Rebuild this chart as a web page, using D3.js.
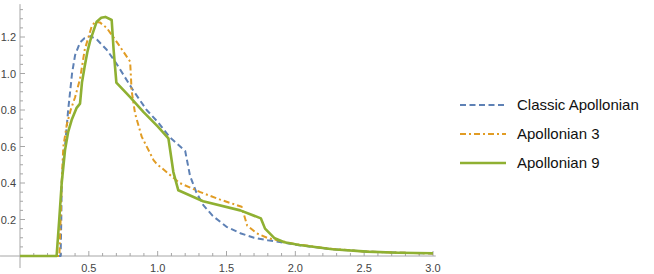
<!DOCTYPE html>
<html>
<head>
<meta charset="utf-8">
<script src="https://cdn.jsdelivr.net/npm/d3@7"></script>
<style>
  body { margin: 0; background: #fff; }
  text { font-family: "Liberation Sans", Arial, sans-serif; }
</style>
</head>
<body>
<div id="chart"></div>
<script>
// series, [x, y]
const classic = [[0,0],[0.295,0],[0.30,0.2],[0.303,0.4],[0.315,0.52],[0.327,0.6],[0.35,0.8],[0.378,1.0],[0.40,1.10],[0.436,1.17],[0.47,1.195],[0.513,1.205],[0.56,1.185],[0.63,1.13],[0.70,1.055],[0.82,0.91],[0.92,0.80],[1.0,0.735],[1.09,0.65],[1.2,0.575],[1.235,0.44],[1.28,0.35],[1.33,0.28],[1.40,0.22],[1.50,0.16],[1.60,0.125],[1.70,0.10],[1.80,0.086],[1.91,0.074],[2.0,0.062],[2.25,0.038],[2.5,0.025],[2.75,0.018],[3.0,0.014]];
const apollonian3 = [[0,0],[0.286,0],[0.295,0.2],[0.305,0.45],[0.315,0.6],[0.34,0.72],[0.368,0.8],[0.40,0.87],[0.436,0.97],[0.47,1.13],[0.52,1.256],[0.545,1.284],[0.58,1.28],[0.63,1.25],[0.71,1.165],[0.80,1.065],[0.807,0.964],[0.81,0.91],[0.836,0.78],[0.884,0.654],[0.97,0.526],[0.99,0.507],[1.16,0.40],[1.31,0.35],[1.45,0.31],[1.61,0.27],[1.65,0.167],[1.72,0.124],[1.80,0.098],[2.0,0.065],[2.25,0.04],[2.5,0.025],[2.75,0.018],[3.0,0.014]];
const apollonian9 = [[0,0],[0.266,0],[0.285,0.2],[0.303,0.40],[0.327,0.58],[0.35,0.68],[0.375,0.745],[0.41,0.81],[0.436,0.835],[0.45,0.95],[0.47,1.04],[0.49,1.12],[0.51,1.18],[0.557,1.284],[0.59,1.305],[0.62,1.31],[0.666,1.293],[0.68,1.13],[0.70,0.95],[0.80,0.87],[0.896,0.79],[1.0,0.71],[1.078,0.645],[1.114,0.46],[1.15,0.36],[1.33,0.30],[1.60,0.25],[1.75,0.206],[1.78,0.15],[1.85,0.097],[1.92,0.075],[2.03,0.06],[2.27,0.037],[2.52,0.024],[2.75,0.018],[3.0,0.015]];

const seriesNames = ["Classic Apollonian", "Apollonian 3", "Apollonian 9"];
const xTicks = [0.5, 1.0, 1.5, 2.0, 2.5, 3.0];
const yTicks = [0.2, 0.4, 0.6, 0.8, 1.0, 1.2];

const width = 654, height = 274;

const svg = d3.select("#chart")
  .append("svg")
  .attr("width", width)
  .attr("height", height);

const x = d3.scaleLinear().domain([0, 3]).range([20, 433]);
const y = d3.scaleLinear().domain([0, 1.2]).range([256, 37]);

const axisColor = "#a6a6a6";
const labelColor = "#444";

// axes lines (Mathematica style, crossing at origin)
svg.append("line")
  .attr("x1", x(-0.145)).attr("x2", x(3.02))
  .attr("y1", y(0)).attr("y2", y(0))
  .attr("stroke", axisColor);
svg.append("line")
  .attr("x1", x(0)).attr("x2", x(0))
  .attr("y1", y(-0.066)).attr("y2", y(1.38))
  .attr("stroke", axisColor);

// x ticks (minor every 0.1, major every 0.5) pointing up
const xMinor = d3.range(1, 31).map(i => i / 10);
svg.append("g").selectAll("line")
  .data(xMinor)
  .join("line")
  .attr("x1", d => x(d)).attr("x2", d => x(d))
  .attr("y1", y(0))
  .attr("y2", d => Math.abs(d * 2 - Math.round(d * 2)) < 1e-6 ? y(0) - 5 : y(0) - 3)
  .attr("stroke", axisColor);

svg.append("g").selectAll("text")
  .data(xTicks)
  .join("text")
  .attr("x", d => x(d))
  .attr("y", y(0) + 16)
  .attr("text-anchor", "middle")
  .attr("font-size", 11)
  .attr("fill", labelColor)
  .text(d3.format(".1f"));

// y ticks (minor every 0.05, major every 0.2) pointing right
const yMinor = d3.range(1, 28).map(i => i * 0.05);
svg.append("g").selectAll("line")
  .data(yMinor)
  .join("line")
  .attr("x1", x(0))
  .attr("x2", (d, i) => (i + 1) % 4 === 0 ? x(0) + 5 : x(0) + 3)
  .attr("y1", d => y(d)).attr("y2", d => y(d))
  .attr("stroke", axisColor);

svg.append("g").selectAll("text")
  .data(yTicks)
  .join("text")
  .attr("x", x(0) - 4)
  .attr("y", d => y(d) + 4)
  .attr("text-anchor", "end")
  .attr("font-size", 11)
  .attr("fill", labelColor)
  .text(d3.format(".1f"));

// series
const styles = [
  { color: "#5e81b5", dash: "6,3.5", width: 2 },
  { color: "#e19c24", dash: "6,3,2,3", width: 2 },
  { color: "#8fb032", dash: null, width: 2.6 }
];
const data = [classic, apollonian3, apollonian9];

const line = d3.line()
  .x(d => x(d[0]))
  .y(d => y(d[1]));

svg.append("g").selectAll("path")
  .data(data)
  .join("path")
  .attr("d", line)
  .attr("fill", "none")
  .attr("stroke", (d, i) => styles[i].color)
  .attr("stroke-width", (d, i) => styles[i].width)
  .attr("stroke-dasharray", (d, i) => styles[i].dash)
  .attr("stroke-linejoin", "round");

// legend
const legend = svg.append("g")
  .selectAll("g")
  .data(seriesNames)
  .join("g")
  .attr("transform", (d, i) => `translate(460, ${105 + i * 29})`);

legend.append("line")
  .attr("x1", 0).attr("x2", 46)
  .attr("stroke", (d, i) => styles[i].color)
  .attr("stroke-width", (d, i) => styles[i].width)
  .attr("stroke-dasharray", (d, i) => styles[i].dash);

legend.append("text")
  .attr("x", 57)
  .attr("y", 5)
  .attr("font-size", 15)
  .attr("fill", "#111")
  .text(d => d);
</script>
</body>
</html>
